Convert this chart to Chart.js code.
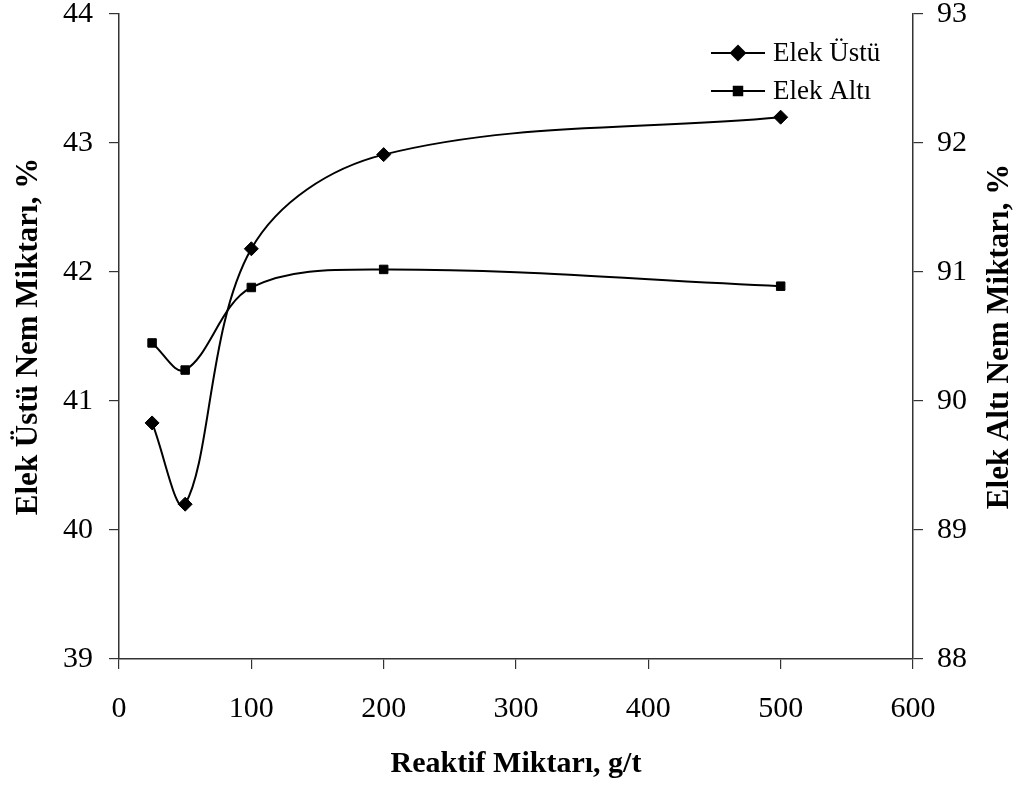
<!DOCTYPE html>
<html>
<head>
<meta charset="utf-8">
<script src="https://cdn.jsdelivr.net/npm/chart.js@4.4.1/dist/chart.umd.min.js"></script>
<style>
  html, body { margin: 0; padding: 0; background: #fff; }
  #kutu { width: 1025px; height: 790px; }
</style>
</head>
<body>
<div id="kutu"><canvas id="grafik"></canvas></div>
<script>
// reaktif miktarı (g/t)
const reaktif = [25, 50, 100, 200, 500];
// elek üstü nem miktarı, % (sol eksen)
const elekUstu = [40.83, 40.2, 42.18, 42.91, 43.2];
// elek altı nem miktarı, % (sag eksen)
const elekAlti = [90.45, 90.24, 90.88, 91.02, 90.89];

const xTicks = [0, 100, 200, 300, 400, 500, 600];
const solTicks = [39, 40, 41, 42, 43, 44];
const sagTicks = [88, 89, 90, 91, 92, 93];

const yazi = "'Liberation Serif', 'Times New Roman', serif";
const siyah = '#000';

const noktalar = (ys) => reaktif.map((x, i) => ({ x: x, y: ys[i] }));

// legend: cizgi + isaret + yazi, grafigin sag ust kosesinde
const lejant = {
  id: 'lejant',
  afterDraw(chart) {
    const ctx = chart.ctx;
    const x0 = 711, x1 = 765;
    const ys = [53, 91];
    chart.data.datasets.forEach((ds, i) => {
      const y = ys[i];
      ctx.save();
      ctx.strokeStyle = siyah;
      ctx.lineWidth = 2;
      ctx.beginPath();
      ctx.moveTo(x0, y);
      ctx.lineTo(x1, y);
      ctx.stroke();
      Chart.helpers.drawPoint(ctx, {
        pointStyle: ds.pointStyle, radius: ds.pointRadius, borderWidth: 1, rotation: 0
      }, (x0 + x1) / 2, y);
      ctx.fillStyle = siyah;
      ctx.font = '27px ' + yazi;
      ctx.textBaseline = 'middle';
      ctx.textAlign = 'left';
      ctx.fillText(ds.label, 773, y + 1);
      ctx.restore();
    });
  }
};

// sag eksen basligi asagidan yukari okunacak sekilde
const sagBaslik = {
  id: 'sagBaslik',
  afterDraw(chart) {
    const ctx = chart.ctx;
    const sc = chart.scales.y2;
    const a = chart.chartArea;
    ctx.save();
    ctx.translate(1000, (a.top + a.bottom) / 2);
    ctx.rotate(-Math.PI / 2);
    ctx.fillStyle = siyah;
    ctx.font = 'bold 31px ' + yazi;
    ctx.textAlign = 'center';
    ctx.textBaseline = 'middle';
    ctx.fillText(sc.options.title.text, 0, 0);
    ctx.restore();
  }
};

const eksenOrtak = {
  grid: { drawOnChartArea: false, drawTicks: true, tickLength: 10, color: '#333', lineWidth: 1.2 },
  border: { display: true, color: '#333', width: 1.5 }
};

// eksen etiketlerinin tasmasi icin eklenen boslugu kaldir
const boslukSifir = (s) => {
  s.paddingTop = 0; s.paddingBottom = 0; s.paddingLeft = 0; s.paddingRight = 0;
};

new Chart(document.getElementById('grafik'), {
  type: 'line',
  data: {
    datasets: [
      {
        label: 'Elek Üstü',
        data: noktalar(elekUstu),
        yAxisID: 'y',
        borderColor: siyah,
        backgroundColor: siyah,
        borderWidth: 2,
        pointStyle: 'rectRot',
        pointRadius: 7,
        pointBorderWidth: 1,
        tension: 0.35,
        fill: false
      },
      {
        label: 'Elek Altı',
        data: noktalar(elekAlti),
        yAxisID: 'y2',
        borderColor: siyah,
        backgroundColor: siyah,
        borderWidth: 2,
        pointStyle: 'rect',
        pointRadius: 6,
        pointBorderWidth: 1,
        tension: 0.35,
        fill: false
      }
    ]
  },
  options: {
    responsive: true,
    maintainAspectRatio: false,
    animation: false,
    layout: { padding: { top: 14, left: 0, right: 0, bottom: 0 } },
    plugins: { legend: { display: false }, tooltip: { enabled: false } },
    scales: {
      x: {
        type: 'linear',
        min: 0, max: 600,
        ...eksenOrtak,
        afterBuildTicks: (s) => { s.ticks = xTicks.map(v => ({ value: v })); },
        afterFit: (s) => { s.height = 131; boslukSifir(s); },
        ticks: { color: siyah, font: { family: yazi, size: 30 }, padding: 22, maxRotation: 0 },
        title: { display: true, text: 'Reaktif Miktarı, g/t', color: siyah,
                 font: { family: yazi, size: 30, weight: 'bold' }, padding: { bottom: 8 } }
      },
      y: {
        position: 'left',
        min: 39, max: 44,
        ...eksenOrtak,
        afterBuildTicks: (s) => { s.ticks = solTicks.map(v => ({ value: v })); },
        afterFit: (s) => { s.width = 119; boslukSifir(s); },
        ticks: { color: siyah, font: { family: yazi, size: 30 }, padding: 16 },
        title: { display: true, text: 'Elek Üstü Nem Miktarı, %', color: siyah,
                 font: { family: yazi, size: 31, weight: 'bold' }, padding: { top: 10 } }
      },
      y2: {
        position: 'right',
        min: 88, max: 93,
        ...eksenOrtak,
        afterBuildTicks: (s) => { s.ticks = sagTicks.map(v => ({ value: v })); },
        afterFit: (s) => { s.width = 112; boslukSifir(s); },
        ticks: { color: siyah, font: { family: yazi, size: 30 }, padding: 14 },
        title: { display: false, text: 'Elek Altı Nem Miktarı, %' }
      }
    }
  },
  plugins: [lejant, sagBaslik]
});
</script>
</body>
</html>
